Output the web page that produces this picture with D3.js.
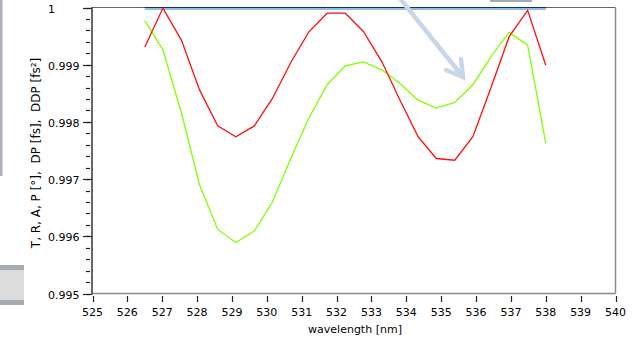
<!DOCTYPE html>
<html>
<head>
<meta charset="utf-8">
<script src="https://cdn.jsdelivr.net/npm/d3@7"></script>
<style>
  html, body { margin: 0; padding: 0; background: #fff; }
  svg { display: block; }
  text { font-family: "DejaVu Sans", Verdana, sans-serif; fill: #000; white-space: pre; }
</style>
</head>
<body>
<svg id="chart" width="633" height="338"></svg>
<script>
// Sampled wavelengths [nm]
const wavelength = [526.50, 527.02, 527.55, 528.07, 528.59, 529.11, 529.64, 530.16,
  530.68, 531.20, 531.73, 532.25, 532.77, 533.30, 533.82, 534.34, 534.86, 535.39,
  535.91, 536.43, 536.95, 537.48, 538.00];

// Transmittance (flat at 1)
const seriesT = [1, 1, 1, 1, 1, 1, 1, 1, 1, 1, 1, 1, 1, 1, 1, 1, 1, 1, 1, 1, 1, 1, 1];

// Red curve
const seriesRed = [0.99931, 0.99999, 0.99943, 0.99856, 0.99793, 0.99774, 0.99793, 0.99841,
  0.99903, 0.99957, 0.99990, 0.99990, 0.99958, 0.99905, 0.99838, 0.99774, 0.99736, 0.99733,
  0.99774, 0.99860, 0.99949, 0.99995, 0.99899];

// Green curve
const seriesGreen = [0.99977, 0.99926, 0.99816, 0.99690, 0.99612, 0.99589, 0.99609, 0.99660,
  0.99735, 0.99806, 0.99865, 0.99898, 0.99905, 0.99891, 0.99867, 0.99838, 0.99824, 0.99834,
  0.99865, 0.99914, 0.99957, 0.99934, 0.99763];

const xTicks = [525, 526, 527, 528, 529, 530, 531, 532, 533, 534, 535, 536, 537, 538, 539, 540];
const yTicks = [0.995, 0.996, 0.997, 0.998, 0.999, 1];
const yMinorTicks = d3.range(0, 26).map(i => 0.995 + i * 0.0002);

const xTitle = "wavelength [nm]";
const yTitle = "T, R, A, P [°],  DP [fs],  DDP [fs²]";

const svg = d3.select("#chart");

// Bits of the surrounding window
svg.append("rect").attr("x", 0).attr("y", 0).attr("width", 2.5).attr("height", 176).attr("fill", "#a9b0b8");
svg.append("rect").attr("x", 0).attr("y", 265).attr("width", 24).attr("height", 40).attr("fill", "#a3abb3");
svg.append("rect").attr("x", 0).attr("y", 270).attr("width", 24).attr("height", 30).attr("fill", "#dcdcdc");
svg.append("rect").attr("x", 490).attr("y", 0).attr("width", 42).attr("height", 2).attr("fill", "#a3abb3");

const x = d3.scaleLinear().domain([525, 540]).range([92.5, 615.5]);
const y = d3.scaleLinear().domain([0.995, 1]).range([293.5, 7.5]);

// Frame
svg.append("line").attr("x1", x(525)).attr("x2", x(540)).attr("y1", y(1)).attr("y2", y(1))
  .attr("stroke", "#666").attr("stroke-width", 1);
svg.append("line").attr("x1", x(540)).attr("x2", x(540)).attr("y1", y(1)).attr("y2", y(0.995))
  .attr("stroke", "#8a8a8a").attr("stroke-width", 1.5);
svg.append("line").attr("x1", x(525)).attr("x2", x(540)).attr("y1", y(0.995)).attr("y2", y(0.995))
  .attr("stroke", "#8a8a8a").attr("stroke-width", 1.5);

// Y axis: minor and major ticks
const gy = svg.append("g");
gy.selectAll("line.minor").data(yMinorTicks).join("line")
  .attr("x1", 86).attr("x2", 90).attr("y1", d => Math.round(y(d)) + 0.5).attr("y2", d => Math.round(y(d)) + 0.5)
  .attr("stroke", "#222").attr("stroke-width", 1.2);
gy.selectAll("line.major").data(yTicks).join("line")
  .attr("x1", 83).attr("x2", 92).attr("y1", d => Math.round(y(d)) + 0.5).attr("y2", d => Math.round(y(d)) + 0.5)
  .attr("stroke", "#222").attr("stroke-width", 1.2);
gy.selectAll("text").data(yTicks).join("text")
  .attr("x", 48).attr("y", d => y(d) + 5)
  .attr("font-size", 11)
  .text(d => d === 1 ? "1" : d3.format(".3f")(d));
svg.append("line").attr("x1", 92).attr("x2", 92).attr("y1", y(1) - 0.5).attr("y2", y(0.995) + 1)
  .attr("stroke", "#333").attr("stroke-width", 1.5);

// X axis
const gx = svg.append("g");
gx.selectAll("line").data(xTicks).join("line")
  .attr("x1", d => Math.round(x(d)) + 0.5).attr("x2", d => Math.round(x(d)) + 0.5)
  .attr("y1", 296).attr("y2", 302)
  .attr("stroke", "#222").attr("stroke-width", 1.2);
gx.selectAll("text").data(xTicks).join("text")
  .attr("x", d => x(d)).attr("y", 316)
  .attr("text-anchor", "middle").attr("font-size", 11)
  .text(d => d);

svg.append("text").attr("x", 355).attr("y", 333)
  .attr("text-anchor", "middle").attr("font-size", 11).text(xTitle);
svg.append("text")
  .attr("transform", "translate(40,153) rotate(-90)")
  .attr("text-anchor", "middle").attr("font-size", 12).text(yTitle);

// Series
const line = d3.line().x((d, i) => x(wavelength[i])).y(d => y(d));

svg.append("path").datum(seriesT).attr("d", line.y(d => y(d) + 1.5))
  .attr("fill", "none").attr("stroke", "#6aa6e0").attr("stroke-width", 1.6);
svg.append("path").datum(seriesT).attr("d", line.y(d => y(d)))
  .attr("fill", "none").attr("stroke", "#14305c").attr("stroke-width", 1.2);

const lineV = d3.line().x((d, i) => x(wavelength[i])).y(d => y(d));
svg.append("path").datum(seriesGreen).attr("d", lineV)
  .attr("fill", "none").attr("stroke", "#80ff00").attr("stroke-width", 1.3);
svg.append("path").datum(seriesRed).attr("d", lineV)
  .attr("fill", "none").attr("stroke", "#ff1010").attr("stroke-width", 1.3);

// Pointer arrow overlay
const arrow = svg.append("g").attr("stroke", "#c8d7e8").attr("stroke-width", 4.5)
  .attr("fill", "none").attr("stroke-linecap", "round");
arrow.append("line").attr("x1", 398).attr("y1", -4).attr("x2", 463).attr("y2", 77);
arrow.append("polyline").attr("points", "446,70 463,77 461,59");
</script>
</body>
</html>
